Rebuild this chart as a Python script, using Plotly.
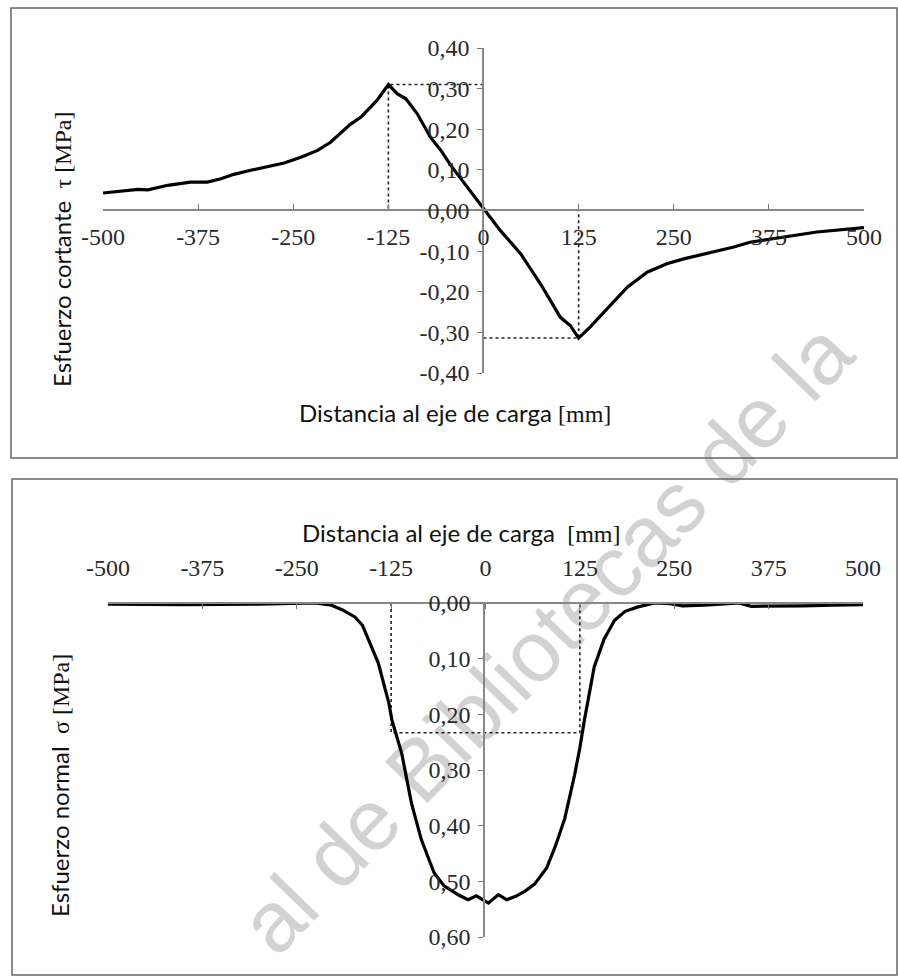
import plotly.graph_objects as go

# ---------------- data ----------------
tau_x = [-500, -476, -454, -441, -415, -385, -363, -345, -328, -306, -284, -262, -240, -218,
         -201, -188, -175, -161, -153, -140, -125, -113, -102, -87, -70, -56, -43, -21, 0,
         22, 49, 62, 75, 88, 101, 114, 125, 140, 158, 189, 215, 241, 263, 298, 329, 350,
         394, 438, 500]
tau_y = [0.043, 0.048, 0.052, 0.051, 0.062, 0.070, 0.070, 0.078, 0.089, 0.099, 0.109, 0.117,
         0.131, 0.148, 0.168, 0.189, 0.212, 0.230, 0.245, 0.271, 0.310, 0.287, 0.275, 0.238,
         0.181, 0.148, 0.111, 0.057, 0.004, -0.049, -0.107, -0.144, -0.181, -0.222, -0.263,
         -0.283, -0.314, -0.287, -0.250, -0.189, -0.152, -0.131, -0.119, -0.103, -0.090,
         -0.078, -0.066, -0.053, -0.042]

sigma_x = [-500, -400, -300, -250, -226, -204, -190, -173, -163, -155, -142, -128, -124, -111,
           -98, -85, -68, -55, -45, -35, -23, -12, -5, 4, 10, 17, 28, 40, 52, 65, 81, 93, 105,
           118, 125, 131, 144, 157, 171, 185, 202, 224, 245, 261, 290, 314, 336, 352, 380,
           420, 460, 500]
sigma_y = [0.002, 0.003, 0.002, 0.001, 0.000, 0.004, 0.012, 0.025, 0.040, 0.066, 0.108, 0.180,
           0.210, 0.270, 0.360, 0.425, 0.485, 0.508, 0.517, 0.525, 0.533, 0.526, 0.532, 0.539,
           0.532, 0.524, 0.533, 0.527, 0.518, 0.505, 0.476, 0.435, 0.387, 0.309, 0.260, 0.210,
           0.115, 0.065, 0.031, 0.015, 0.007, 0.000, 0.001, 0.005, 0.004, 0.002, 0.000, 0.006,
           0.006, 0.005, 0.004, 0.003]

# dotted reference lines (peak locations)
tau_ref_x = [0, -125, -125, None, 0, 125, 125]
tau_ref_y = [0.310, 0.310, 0.0, None, -0.314, -0.314, 0.0]
sigma_ref_x = [-125, -125, 125, 125]
sigma_ref_y = [0.0, 0.233, 0.233, 0.0]

x_ticks = [-500, -375, -250, -125, 0, 125, 250, 375, 500]
x_ticktext = ["-500", "-375", "-250", "-125", "0", "125", "250", "375", "500"]
tau_ticks = [0.4, 0.3, 0.2, 0.1, 0.0, -0.1, -0.2, -0.3, -0.4]
tau_ticktext = ["0,40", "0,30", "0,20", "0,10", "0,00", "-0,10", "-0,20", "-0,30", "-0,40"]
sigma_ticks = [0.0, 0.1, 0.2, 0.3, 0.4, 0.5, 0.6]
sigma_ticktext = ["0,00", "0,10", "0,20", "0,30", "0,40", "0,50", "0,60"]

# ---------------- layout helpers ----------------
W, H = 898, 976
def fx(p):
    return p / W
def fy(p):
    return 1 - p / H

SERIF = "Liberation Serif"
SANS = "Lato"
tickfont = dict(family=SERIF, size=24, color="#2a2a2a")
axcommon = dict(showgrid=False, zeroline=False, showline=True, linecolor="#888",
                linewidth=1.5, tickcolor="#777", tickwidth=1.2, ticklen=5,
                tickfont=tickfont, anchor="free", automargin=False)

fig = go.Figure()
fig.add_trace(go.Scatter(x=tau_ref_x, y=tau_ref_y, mode="lines", xaxis="x", yaxis="y",
                         line=dict(color="#222", width=1.6, dash="dot"), hoverinfo="skip"))
fig.add_trace(go.Scatter(x=tau_x, y=tau_y, mode="lines", xaxis="x", yaxis="y",
                         line=dict(color="black", width=3.2)))
fig.add_trace(go.Scatter(x=sigma_ref_x, y=sigma_ref_y, mode="lines", xaxis="x2", yaxis="y2",
                         line=dict(color="#222", width=1.6, dash="dot"), hoverinfo="skip"))
fig.add_trace(go.Scatter(x=sigma_x, y=sigma_y, mode="lines", xaxis="x2", yaxis="y2",
                         line=dict(color="black", width=3.2)))

fig.update_layout(
    width=W, height=H, margin=dict(l=0, r=0, t=0, b=0, pad=0, autoexpand=False),
    paper_bgcolor="white", plot_bgcolor="rgba(0,0,0,0)", showlegend=False,
    xaxis=dict(domain=[fx(103), fx(864)], range=[-500, 500], position=fy(210),
               tickmode="array", tickvals=x_ticks, ticktext=x_ticktext, ticks="inside",
               ticklabelstandoff=5, **axcommon),
    yaxis=dict(domain=[fy(373), fy(48)], range=[-0.4, 0.4], position=fx(483),
               tickmode="array", tickvals=tau_ticks, ticktext=tau_ticktext, ticks="outside",
               ticklabelstandoff=3, **axcommon),
    xaxis2=dict(domain=[fx(108), fx(863)], range=[-500, 500], position=fy(603), side="top",
                tickmode="array", tickvals=x_ticks, ticktext=x_ticktext, ticks="inside",
                ticklabelstandoff=17, **axcommon),
    yaxis2=dict(domain=[fy(937), fy(603)], range=[0.6, 0], position=fx(484),
                tickmode="array", tickvals=sigma_ticks, ticktext=sigma_ticktext, ticks="outside",
                ticklabelstandoff=3, **axcommon),
)

serif_span = "<span style='font-family:Liberation Serif'>{}</span>"
annos = [
    dict(text="Distancia al eje de carga " + serif_span.format("[mm]"),
         x=fx(455), y=fy(412)),
    dict(text="Distancia al eje de carga  " + serif_span.format("[mm]"),
         x=fx(462), y=fy(532)),
    dict(text="Esfuerzo cortante  " + serif_span.format("τ [MPa]"),
         x=fx(62), y=fy(250), textangle=-90),
    dict(text="Esfuerzo normal  " + serif_span.format("σ [MPa]"),
         x=fx(59), y=fy(786), textangle=-90),
]
for a in annos:
    fig.add_annotation(xref="paper", yref="paper", showarrow=False, xanchor="center",
                       yanchor="middle", font=dict(family=SANS, size=24, color="#111"), **a)

# panel borders
for (x0, y0, x1, y1) in [(11, 8, 897, 458), (12, 479, 897, 975)]:
    fig.add_shape(type="rect", xref="paper", yref="paper", x0=fx(x0), x1=fx(x1),
                  y0=fy(y1), y1=fy(y0), line=dict(color="#666", width=1.5),
                  fillcolor="rgba(0,0,0,0)", layer="above")

# watermark
cx, cy = 540, 632
fig.add_shape(type="line", xref="paper", yref="paper", layer="below",
              x0=fx(cx - 208), y0=fy(cy + 216), x1=fx(cx + 208), y1=fy(cy - 216),
              line=dict(color="rgba(0,0,0,0)", width=1),
              label=dict(text="al de Bibliotecas de la", textangle=-46,
                         textposition="middle", xanchor="center", yanchor="middle",
                         font=dict(family="Liberation Sans", size=86, color="#d2d2d2")))

fig.write_html("out.html")
